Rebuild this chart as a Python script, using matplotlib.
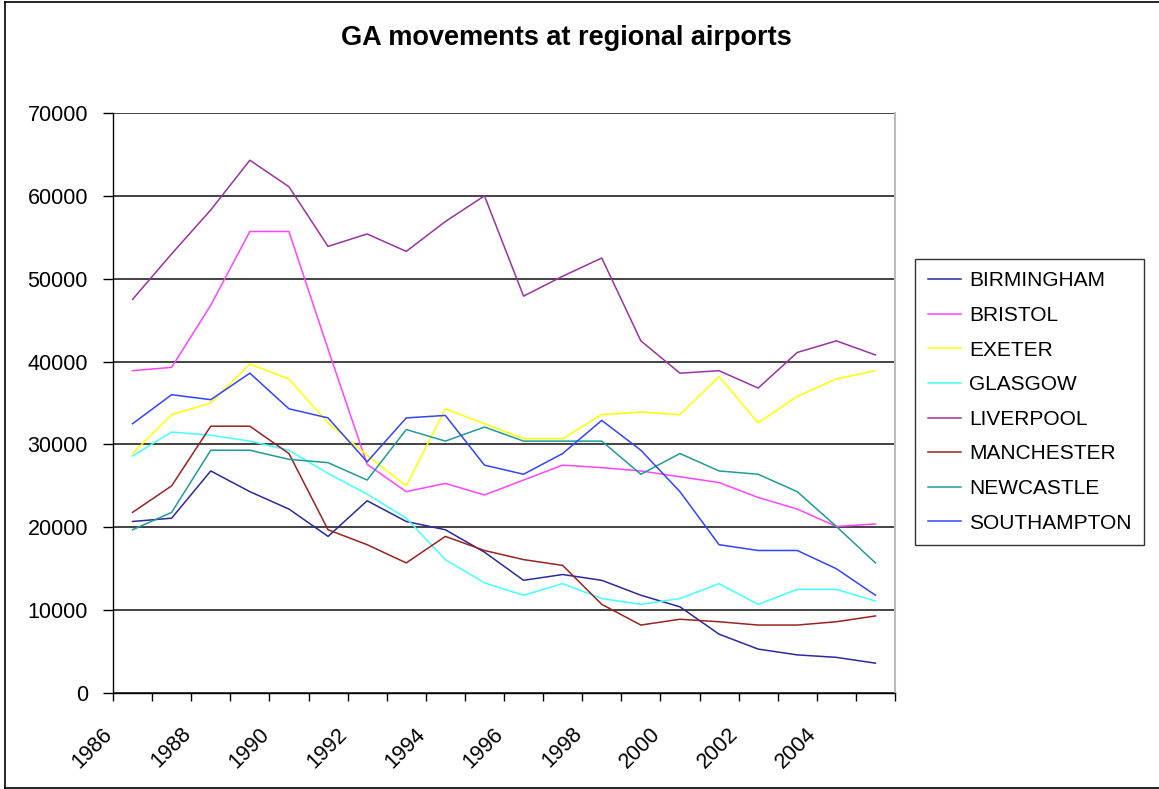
"""GA movements at regional airports, 1986-2005 (Excel-style line chart)."""
import matplotlib
matplotlib.use('Agg')
import matplotlib.pyplot as plt
from matplotlib.lines import Line2D
from matplotlib.transforms import ScaledTranslation

plt.rcParams['font.family'] = ['Liberation Sans', 'DejaVu Sans']

years = list(range(1986, 2006))

birmingham = [20700, 21100, 26800, 24300, 22200, 18900, 23200, 20700, 19700, 17000,
              13600, 14300, 13600, 11800, 10400, 7100, 5300, 4600, 4300, 3600]
bristol = [38900, 39300, 46800, 55700, 55700, 41500, 27600, 24300, 25300, 23900,
           25700, 27500, 27200, 26800, 26100, 25400, 23600, 22200, 20100, 20400]
exeter = [28900, 33600, 35000, 39700, 37900, 32600, 28700, 25000, 34300, 32500,
          30700, 30700, 33600, 33900, 33600, 38200, 32600, 35800, 37900, 38900]
glasgow = [28600, 31500, 31100, 30400, 29300, 26500, 24000, 21100, 16100, 13300,
           11800, 13200, 11400, 10700, 11400, 13200, 10700, 12500, 12500, 11100]
liverpool = [47500, 53000, 58300, 64300, 61100, 53900, 55400, 53300, 56900, 60000,
             47900, 50300, 52500, 42500, 38600, 38900, 36800, 41100, 42500, 40800]
manchester = [21800, 25000, 32200, 32200, 28900, 19700, 17900, 15700, 18900, 17200,
              16100, 15400, 10700, 8200, 8900, 8600, 8200, 8200, 8600, 9300]
newcastle = [19700, 21800, 29300, 29300, 28200, 27800, 25700, 31800, 30400, 32100,
             30400, 30400, 30400, 26400, 28900, 26800, 26400, 24300, 20100, 15700]
southampton = [32500, 36000, 35400, 38600, 34300, 33200, 27900, 33200, 33500, 27500,
               26400, 28900, 32900, 29300, 24300, 17900, 17200, 17200, 15000, 11800]

series_names = ['BIRMINGHAM', 'BRISTOL', 'EXETER', 'GLASGOW', 'LIVERPOOL',
                'MANCHESTER', 'NEWCASTLE', 'SOUTHAMPTON']
series_values = [birmingham, bristol, exeter, glasgow, liverpool,
                 manchester, newcastle, southampton]
series_colors = ['#2a2a9a', '#ff44ff', '#ffff00', '#44ffff', '#9933a0',
                 '#992222', '#229999', '#3344ff']

fig = plt.figure(figsize=(11.59, 7.89), dpi=100)
ax = fig.add_axes([113 / 1159, 1 - 693 / 789, 782 / 1159, 580 / 789])

# categories sit in the middle of each slot, ticks on the slot edges
xs = [i + 0.5 for i in range(len(years))]
for name, vals, col in zip(series_names, series_values, series_colors):
    ax.plot(xs, vals, color=col, lw=1.1, label=name)

ax.set_xlim(0, len(years))
ax.set_ylim(0, 70000)
ax.set_yticks(range(0, 70001, 10000))
ax.set_xticks(range(len(years) + 1))
xlabels = [str(1986 + k) if k % 2 == 0 and k < len(years) else '' for k in range(len(years) + 1)]
ax.set_xticklabels(xlabels, rotation=45, ha='right', va='top')

ax.yaxis.grid(True, color='#222222', lw=1.2)
ax.set_axisbelow(True)
for side in ['left', 'bottom']:
    ax.spines[side].set_color('black')
    ax.spines[side].set_linewidth(1.0)
ax.spines['top'].set_visible(False)
ax.spines['right'].set_color('#bbbbbb')
ax.spines['right'].set_linewidth(1.5)

ax.tick_params(axis='y', length=7, width=1.0, pad=11, labelsize=15.5, direction='out')
ax.tick_params(axis='x', length=6, width=1.0, pad=16, labelsize=15.5, direction='out')
# nudge the slanted year labels so their ends sit on the ticks
shift = ScaledTranslation(4 / 100, 0, fig.dpi_scale_trans)
for lbl in ax.get_xticklabels():
    lbl.set_transform(lbl.get_transform() + shift)

fig.text(566 / 1159, 1 - 38 / 789, 'GA movements at regional airports',
         ha='center', va='center', fontsize=19.5, fontweight='bold')

leg = fig.legend(loc='center left', bbox_to_anchor=(915 / 1159, 1 - 402 / 789),
                 frameon=True, fancybox=False, fontsize=15, handlelength=1.6,
                 handletextpad=0.4, labelspacing=0.75, borderpad=0.6,
                 borderaxespad=0)
leg.get_frame().set_edgecolor('black')
leg.get_frame().set_linewidth(1.0)

# outer chart border
fw, fh = 1159, 789
for xd, yd in [([5, 5], [2, 788]), ([5, fw], [2, 2]), ([5, fw], [788, 788])]:
    fig.add_artist(Line2D([x / fw for x in xd], [1 - y / fh for y in yd],
                          color='black', lw=1.2, transform=fig.transFigure))

fig.savefig('out.png', dpi=100)
